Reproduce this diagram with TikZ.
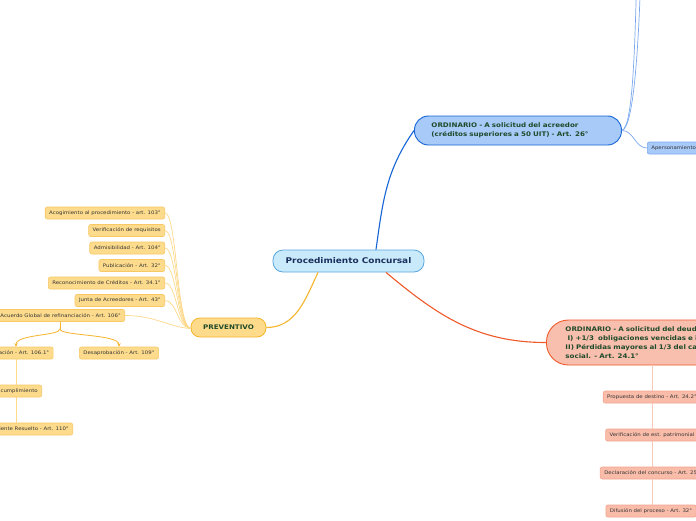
\documentclass[tikz,border=0pt]{standalone}
\usepackage{fontspec}
\setmainfont[FakeStretch=1.13]{DejaVu Sans}
\usetikzlibrary{arrows.meta}
\definecolor{cfill}{HTML}{C8EAFB}
\definecolor{cbord}{HTML}{5AA6DE}
\definecolor{ctext}{HTML}{1B2F5C}
\definecolor{pfill}{HTML}{FEDB8A}
\definecolor{pbord}{HTML}{F5B52C}
\definecolor{gtext}{HTML}{1F4A2A}
\definecolor{ysub}{HTML}{FDDB8C}
\definecolor{ysubb}{HTML}{F8C865}
\definecolor{yline}{HTML}{FDD98A}
\definecolor{bfill}{HTML}{A8CAF9}
\definecolor{bbord}{HTML}{1565D6}
\definecolor{bline}{HTML}{7DA9EE}
\definecolor{sfill}{HTML}{F9BFAE}
\definecolor{sbord}{HTML}{EF5A2A}
\definecolor{ssub}{HTML}{F8BCA9}
\definecolor{ssubb}{HTML}{F4A48E}
\definecolor{sline}{HTML}{F9C7B8}
\definecolor{subtext}{HTML}{333333}
\tikzset{
  ysubnode/.style={draw=ysubb,fill=ysub,rounded corners=2pt,line width=0.6pt,minimum height=12pt,inner xsep=4pt,inner ysep=0pt,font=\fontsize{4.8}{5.5}\selectfont,text=subtext},
  ssubnode/.style={draw=ssubb,fill=ssub,rounded corners=2pt,line width=0.6pt,minimum height=12pt,inner xsep=4pt,inner ysep=0pt,font=\fontsize{4.8}{5.5}\selectfont,text=subtext},
  bsubnode/.style={draw=bline,fill=bfill,rounded corners=2pt,line width=0.6pt,minimum height=12pt,inner xsep=4pt,inner ysep=0pt,font=\fontsize{4.8}{5.5}\selectfont,text=subtext},
  yconn/.style={draw=yline,line width=0.7pt},
  sconn/.style={draw=sline,line width=0.8pt},
  bconn/.style={draw=bline,line width=0.7pt},
}
\begin{document}
\begin{tikzpicture}[x=1pt,y=-1pt]
\useasboundingbox (0,0) rectangle (696,520);
\clip (0,0) rectangle (696,520);
\fill[white] (0,0) rectangle (696,520);
% central
\node[draw=cbord,fill=cfill,line width=0.8pt,rounded corners=10pt,minimum width=151pt,minimum height=22pt,inner sep=0pt,text=ctext,font=\fontsize{7.9}{9}\selectfont\bfseries] (c) at (348.5,261) {Procedimiento Concursal};
% preventivo
\node[draw=pbord,fill=pfill,line width=0.8pt,rounded corners=9pt,minimum width=75pt,minimum height=19pt,inner sep=0pt,text=gtext,font=\fontsize{6.3}{7.5}\selectfont\bfseries] (prev) at (228.5,327.5) {PREVENTIVO};
% ordinario acreedor
\node[draw=bbord,fill=bfill,line width=0.9pt,rounded corners=14pt,text width=173pt,inner xsep=17pt,inner ysep=0pt,minimum height=29pt,align=left,text=gtext,font=\fontsize{6.3}{9}\selectfont\bfseries,anchor=west] (ord) at (414,130.5) {ORDINARIO - A solicitud del acreedor\\(créditos superiores a 50 UIT) - Art. 26°};
% ordinario deudor
\node[draw=sbord,fill=sfill,line width=0.9pt,rounded corners=22pt,text width=230pt,inner xsep=19pt,inner ysep=0pt,minimum height=45pt,align=left,text=gtext,font=\fontsize{6.3}{9}\selectfont\bfseries,anchor=west] (deu) at (546,342.5) {ORDINARIO - A solicitud del deudor:\\\ I) +1/3\ \ obligaciones vencidas e impagas\\II) Pérdidas mayores al 1/3 del capital\\social. - Art. 24.1°};
% main connectors
\draw[bbord,line width=1.1pt] ([xshift=27.5pt]c.north) to[out=82,in=235] (ord.west);
\draw[sbord,line width=1.1pt] ([xshift=37.5pt]c.south) to[out=-40,in=180] (deu.west);
\draw[pbord,line width=1.1pt] ([xshift=-30.5pt]c.south) to[out=-115,in=0] (prev.east);
% preventivo children
\node[ysubnode,anchor=east] (y1) at (165,213) {Acogimiento al procedimiento - art. 103°};
\node[ysubnode,anchor=east] (y2) at (165,230.5) {Verificación de requisitos};
\node[ysubnode,anchor=east] (y3) at (165,248) {Admisibilidad - Art. 104°};
\node[ysubnode,anchor=east] (y4) at (165,265.5) {Publicación - Art. 32°};
\node[ysubnode,anchor=east] (y5) at (165,283) {Reconocimiento de Créditos - Art. 34.1°};
\node[ysubnode,anchor=east] (y6) at (165,300.5) {Junta de Acreedores - Art. 43°};
\node[ysubnode,anchor=east] (y7) at (125,315.5) {Acuerdo Global de refinanciación - Art. 106°};
\foreach \n in {y1,y2,y3,y4,y5,y6}{
  \draw[yconn] (\n.east) .. controls +(12,0) and +(-14,-2) .. ([yshift=-1pt]prev.west);
}
\draw[yconn] (y7.east) .. controls +(30,0) and +(-20,-1) .. ([yshift=-1pt]prev.west);
% acuerdo children
\node[ysubnode] (a1) at (16,353) {Aprobación - Art. 106.1°};
\node[ysubnode] (a2) at (119,353) {Desaprobación - Art. 109°};
\node[ysubnode,anchor=east] (a3) at (42,391) {Incumplimiento};
\node[ysubnode,anchor=east] (a4) at (73,429) {Expediente Resuelto - Art. 110°};
\coordinate (ab) at (60,329);
\draw[pbord,line width=0.8pt] (60,321.5) -- (ab);
\draw[pbord,line width=0.8pt,-{Stealth[length=3.5pt,width=3.5pt]}] (ab) .. controls (60,336) and (16,334) .. (a1.north);
\draw[pbord,line width=0.8pt,-{Stealth[length=3.5pt,width=3.5pt]}] (ab) .. controls (60,336) and (119,334) .. (a2.north);
\draw[yconn] (a1.south) -- (16,385);
\draw[yconn] (16,397) -- (16,423);
% blue children
\node[bsubnode,anchor=west] (b1) at (647,148) {Apersonamiento de acreedores};
\coordinate (bt1) at (637,-30);
\coordinate (bt2) at (641,-30);
\draw[bconn] (ord.east) .. controls +(12,0) and +(-12,0) .. (b1.west);
\draw[bconn] (ord.east) .. controls +(12,-3) and +(-2,60) .. (bt1);
\draw[bconn] (ord.east) .. controls +(13,-3) and +(-2,60) .. (bt2);
% deudor children
\node[ssubnode] (s1) at (652,397) {Propuesta de destino - Art. 24.2°};
\node[ssubnode] (s2) at (652,435) {Verificación de est. patrimonial};
\node[ssubnode] (s3) at (652,473) {Declaración del concurso - Art. 25°};
\node[ssubnode] (s4) at (651,511) {Difusión del proceso - Art. 32°};
\draw[sconn] (652,365) -- (s1.north);
\draw[sconn] (s1.south) -- (s2.north);
\draw[sconn] (s2.south) -- (s3.north);
\draw[sconn] (s3.south) -- ([xshift=1pt]s4.north);
\end{tikzpicture}
\end{document}
